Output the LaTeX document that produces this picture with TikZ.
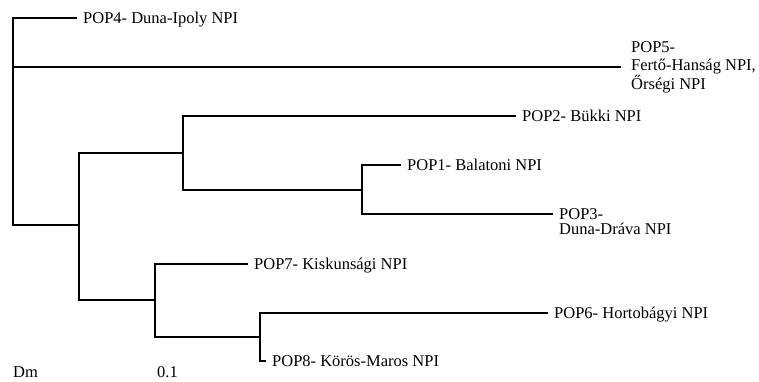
\documentclass[tikz,border=0pt]{standalone}
\usepackage{fontspec}
\setmainfont{Liberation Serif}
\tikzset{
  branch/.style={line width=1.2pt, line cap=rect},
  lab/.style={anchor=base west, inner sep=0pt, xshift=7pt, yshift=-5.4pt, font=\fontsize{16.5}{18.5}\selectfont},
  lab5/.style={anchor=north west, inner sep=0pt, align=left, xshift=11pt, yshift=26pt, font=\fontsize{16.5}{18.5}\selectfont},
  lab3/.style={anchor=north west, inner sep=0pt, align=left, xshift=7pt, yshift=6pt, font=\fontsize{16.5}{15}\selectfont},
  plain/.style={anchor=base west, inner sep=0pt, font=\fontsize{16.5}{18.5}\selectfont}
}
\begin{document}
\begin{tikzpicture}[x=1pt,y=-1pt]
\useasboundingbox (0,0) rectangle (759,381);
% internal nodes
\coordinate (r) at (13,120);
\coordinate (a) at (79,225);
\coordinate (b) at (183,153);
\coordinate (c) at (362,190);
\coordinate (d) at (155,300);
\coordinate (e) at (260,337);
% leaf ends
\coordinate (p4) at (76,18);
\coordinate (p5) at (620,67);
\coordinate (p2) at (515,116);
\coordinate (p1) at (400,165);
\coordinate (p3) at (552,214);
\coordinate (p7) at (247,264);
\coordinate (p6) at (547,313);
\coordinate (p8) at (265,361);
% branches
\draw[branch] (r) |- (p4);
\draw[branch] (r) |- (p5);
\draw[branch] (r) |- (a);
\draw[branch] (a) |- (b);
\draw[branch] (a) |- (d);
\draw[branch] (b) |- (p2);
\draw[branch] (b) |- (c);
\draw[branch] (c) |- (p1);
\draw[branch] (c) |- (p3);
\draw[branch] (d) |- (p7);
\draw[branch] (d) |- (e);
\draw[branch] (e) |- (p6);
\draw[branch] (e) |- (p8);
% labels
\node[lab] (l4) at (p4) {POP4- Duna-Ipoly NPI};
\node[lab5] (l5) at (p5) {POP5-\\Fertő-Hanság NPI,\\Őrségi NPI};
\node[lab] (l2) at (p2) {POP2- Bükki NPI};
\node[lab] (l1) at (p1) {POP1- Balatoni NPI};
\node[lab3] (l3) at (p3) {POP3-\\Duna-Dráva NPI};
\node[lab] (l7) at (p7) {POP7- Kiskunsági NPI};
\node[lab] (l6) at (p6) {POP6- Hortobágyi NPI};
\node[lab] (l8) at (p8) {POP8- Körös-Maros NPI};
\node[plain] (dm) at (13,377.5) {Dm};
\node[plain] (sc) at (157,377.5) {0.1};
\end{tikzpicture}
\end{document}
